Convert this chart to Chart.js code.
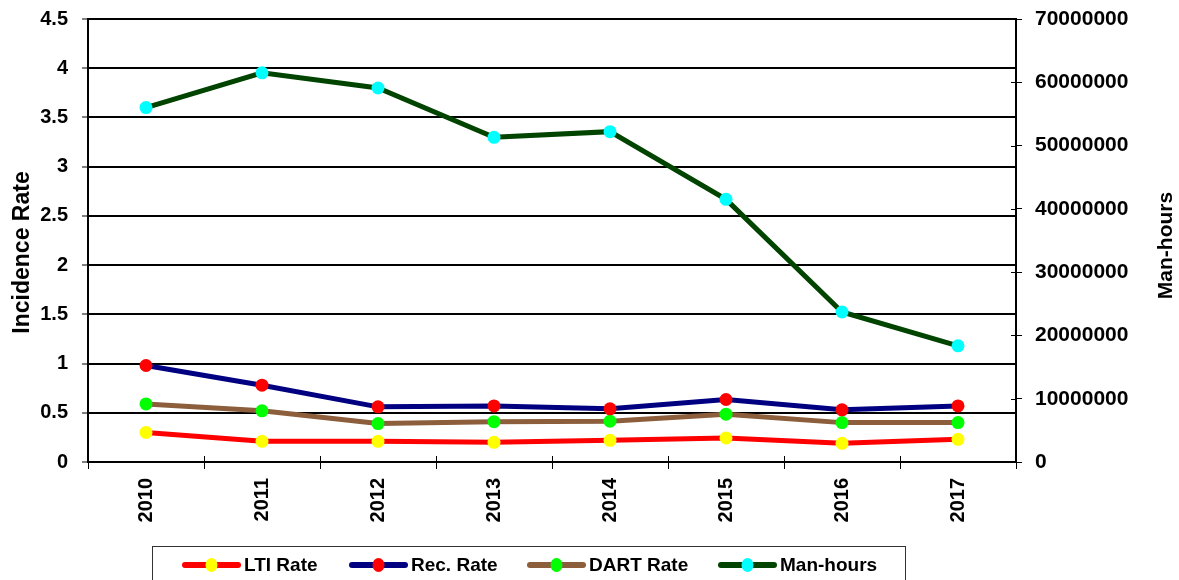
<!DOCTYPE html>
<html>
<head>
<meta charset="utf-8">
<script src="https://cdn.jsdelivr.net/npm/chart.js@4.4.1/dist/chart.umd.min.js"></script>
<style>
  html, body { margin: 0; padding: 0; background: #ffffff; }
  #wrap { width: 1179px; height: 580px; position: relative; overflow: hidden; }
</style>
</head>
<body>
<div id="wrap"><canvas id="chart" width="1179" height="580"></canvas></div>
<script>
// Yearly safety statistics
const years = ['2010', '2011', '2012', '2013', '2014', '2015', '2016', '2017'];
const ltiRate = [0.30, 0.21, 0.21, 0.20, 0.22, 0.245, 0.19, 0.23];
const recRate = [0.98, 0.78, 0.56, 0.57, 0.54, 0.635, 0.53, 0.57];
const dartRate = [0.59, 0.52, 0.39, 0.41, 0.415, 0.486, 0.40, 0.40];
const manHours = [56000000, 61500000, 59100000, 51300000, 52200000, 41500000, 23700000, 18350000];

const rateAxisTitle = 'Incidence Rate';
const hoursAxisTitle = 'Man-hours';

const FAMILY = "'Liberation Sans', Arial, Helvetica, sans-serif";

function series(label, data, line, marker, axis) {
  return {
    label, data, yAxisID: axis,
    borderColor: line, backgroundColor: line,
    borderWidth: 5,
    pointRadius: 6.5, pointHoverRadius: 6.5,
    pointBackgroundColor: marker, pointBorderColor: marker, pointBorderWidth: 0,
    tension: 0, fill: false
  };
}

// Inner halves of the tick marks on the category and right axes
const tickStubs = {
  id: 'tickStubs',
  afterDraw(chart) {
    const ctx = chart.ctx;
    const x = chart.scales.x, y1 = chart.scales.y1;
    ctx.save();
    ctx.strokeStyle = '#000';
    ctx.lineWidth = 1;
    const n = years.length;
    const step = (x.right - x.left) / n;
    for (let i = 0; i <= n; i++) {
      const px = Math.round(x.left + i * step) + 0.5;
      ctx.beginPath();
      ctx.moveTo(px, x.top - 6);
      ctx.lineTo(px, x.top);
      ctx.stroke();
    }
    y1.ticks.forEach((t, i) => {
      const py = Math.round(y1.getPixelForTick(i)) + 0.5;
      ctx.beginPath();
      ctx.moveTo(y1.left - 5, py);
      ctx.lineTo(y1.left, py);
      ctx.stroke();
    });
    ctx.restore();
  }
};

// Axis titles, both reading bottom to top
const axisTitles = {
  id: 'axisTitles',
  afterDraw(chart) {
    const ctx = chart.ctx;
    const area = chart.chartArea;
    ctx.save();
    ctx.fillStyle = '#000';
    ctx.textAlign = 'center';
    ctx.textBaseline = 'middle';
    const cy = (area.top + area.bottom) / 2;
    [[23, cy + 12, rateAxisTitle, 23], [1166, cy + 5, hoursAxisTitle, 21]].forEach(([tx, ty, txt, size]) => {
      ctx.save();
      ctx.font = 'bold ' + size + 'px ' + FAMILY;
      ctx.translate(tx, ty);
      ctx.rotate(-Math.PI / 2);
      ctx.fillText(txt, 0, 0);
      ctx.restore();
    });
    ctx.restore();
  }
};

// Boxed legend with line-and-marker samples
const boxedLegend = {
  id: 'boxedLegend',
  afterDraw(chart) {
    const ctx = chart.ctx;
    ctx.save();
    ctx.strokeStyle = '#333';
    ctx.lineWidth = 1;
    ctx.strokeRect(152.5, 546.5, 753, 60);
    ctx.font = 'bold 19px ' + FAMILY;
    ctx.textBaseline = 'middle';
    ctx.textAlign = 'left';
    const starts = [185, 352, 530, 721];
    const cy = 565;
    chart.data.datasets.forEach((ds, i) => {
      const x0 = starts[i];
      ctx.strokeStyle = ds.borderColor;
      ctx.lineWidth = 6;
      ctx.lineCap = 'round';
      ctx.beginPath();
      ctx.moveTo(x0, cy);
      ctx.lineTo(x0 + 53, cy);
      ctx.stroke();
      ctx.fillStyle = ds.pointBackgroundColor;
      ctx.beginPath();
      ctx.ellipse(x0 + 26.5, cy, 6, 7, 0, 0, Math.PI * 2);
      ctx.fill();
      ctx.fillStyle = '#000';
      ctx.fillText(ds.label, x0 + 59, cy + 1);
    });
    ctx.restore();
  }
};

// Fixed axis sizes so the plot area sits where intended
function fixVertical(width) {
  return s => { s.width = width; s.paddingTop = 0; s.paddingBottom = 0; };
}

new Chart(document.getElementById('chart'), {
  type: 'line',
  data: {
    labels: years,
    datasets: [
      series('LTI Rate', ltiRate, '#ff0000', '#ffff00', 'y'),
      series('Rec. Rate', recRate, '#000080', '#ff0000', 'y'),
      series('DART Rate', dartRate, '#8c5e3c', '#00ff00', 'y'),
      series('Man-hours', manHours, '#004400', '#00ffff', 'y1')
    ]
  },
  options: {
    responsive: false,
    animation: false,
    devicePixelRatio: 1,
    layout: { padding: { top: 19, left: 0, right: 0, bottom: 0 } },
    plugins: { legend: { display: false }, tooltip: { enabled: false } },
    scales: {
      x: {
        type: 'category',
        offset: true,
        grid: { display: true, offset: true, drawOnChartArea: false, color: '#000', tickLength: 7, tickWidth: 1 },
        border: { display: true, color: '#000', width: 2 },
        ticks: {
          color: '#000', font: { family: FAMILY, size: 20, weight: 'bold' },
          minRotation: 90, maxRotation: 90, padding: 9, autoSkip: false
        },
        afterFit(s) { s.height = 118; s.paddingLeft = 0; s.paddingRight = 0; }
      },
      y: {
        position: 'left',
        min: 0, max: 4.5,
        grid: { color: '#000', lineWidth: 2, tickLength: 6, tickWidth: 1, tickColor: '#000' },
        border: { display: true, color: '#000', width: 2 },
        ticks: {
          stepSize: 0.5, color: '#000', padding: 14,
          font: { family: FAMILY, size: 20, weight: 'bold' },
          callback: v => String(v)
        },
        afterFit: fixVertical(88)
      },
      y1: {
        position: 'right',
        min: 0, max: 70000000,
        grid: { drawOnChartArea: false, color: '#000', tickLength: 6, tickWidth: 1 },
        border: { display: true, color: '#000', width: 2 },
        ticks: {
          stepSize: 10000000, color: '#000', padding: 13,
          font: { family: FAMILY, size: 21, weight: 'bold' },
          callback: v => String(v)
        },
        afterFit: fixVertical(163)
      }
    }
  },
  plugins: [tickStubs, axisTitles, boxedLegend]
});
</script>
</body>
</html>
